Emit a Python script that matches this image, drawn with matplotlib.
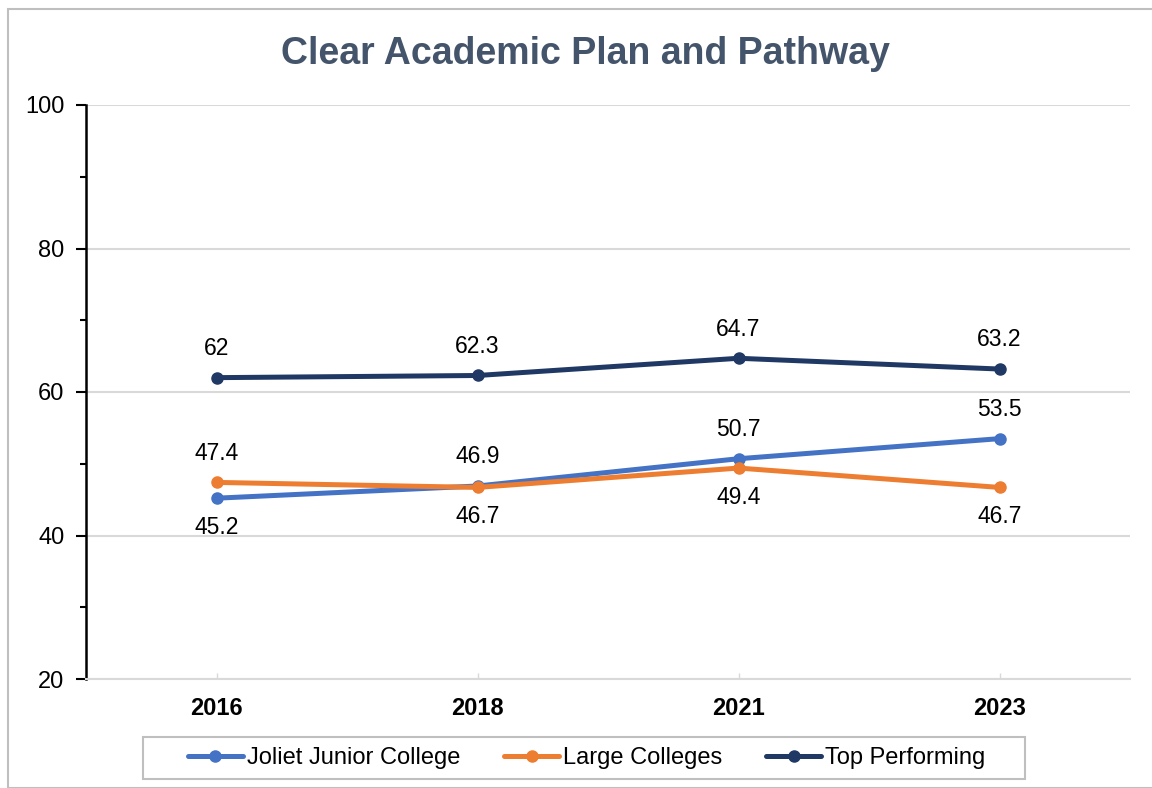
import matplotlib
matplotlib.use("Agg")
import matplotlib.pyplot as plt
from matplotlib.patches import Rectangle
from matplotlib.ticker import MultipleLocator

plt.rcParams['font.family'] = ['Liberation Sans', 'DejaVu Sans']

years = ["2016", "2018", "2021", "2023"]
joliet = [45.2, 46.9, 50.7, 53.5]
large = [47.4, 46.7, 49.4, 46.7]
top = [62, 62.3, 64.7, 63.2]

series_names = ["Joliet Junior College", "Large Colleges", "Top Performing"]
series_values = [joliet, large, top]
series_colors = ["#4472C4", "#ED7D31", "#203864"]
# label placement per point: +1 above the marker, -1 below
label_sides = [
    [-1, 1, 1, 1],
    [1, -1, -1, -1],
    [1, 1, 1, 1],
]

fig = plt.figure(figsize=(11.52, 7.88), dpi=100)
W, H = 1152, 788

# outer chart frame
fig.patches.append(Rectangle((8 / W, 0), 1.2, 1 - 9 / H, transform=fig.transFigure,
                             fill=False, edgecolor="#BFBFBF", linewidth=1.5))

ax = fig.add_axes([86 / W, 1 - 679 / H, (1130 - 86) / W, (679 - 105) / H])
x = list(range(len(years)))

for name, vals, color, sides in zip(series_names, series_values, series_colors, label_sides):
    ax.plot(x, vals, color=color, linewidth=3.6, marker="o", markersize=8,
            solid_capstyle="round", label=name, zorder=3)
    for xi, v, s in zip(x, vals, sides):
        ax.annotate(f"{v:g}", (xi, v), xytext=(0, 21 * s), textcoords="offset points",
                    ha="center", va="center", fontsize=16.5, color="black")

ax.set_xlim(-0.5, len(years) - 0.5)
ax.set_ylim(20, 100)
ax.set_xticks(x)
ax.set_xticklabels(years, fontsize=17, fontweight="bold")
ax.yaxis.set_major_locator(MultipleLocator(20))
ax.yaxis.set_minor_locator(MultipleLocator(10))
ax.tick_params(axis="y", which="major", direction="out", length=7, width=1.5,
               color="black", labelsize=17, pad=8.5)
ax.tick_params(axis="y", which="minor", direction="out", length=4, width=1.5, color="black")
ax.tick_params(axis="x", direction="in", length=4, width=1, color="#D9D9D9", pad=13)

ax.grid(axis="y", which="major", color="#D9D9D9", linewidth=1.5)
ax.set_axisbelow(True)
for side in ["top", "right"]:
    ax.spines[side].set_visible(False)
ax.spines["left"].set_color("black")
ax.spines["left"].set_linewidth(1.8)
ax.spines["bottom"].set_color("#D9D9D9")
ax.spines["bottom"].set_linewidth(1.5)

fig.text(585 / W, 1 - 54 / H, "Clear Academic Plan and Pathway", ha="center", va="center",
         fontsize=27, fontweight="bold", color="#44546A")

# legend box drawn separately so its padding can be wider than tall
fig.patches.append(Rectangle((143 / W, 1 - 779 / H), (1025 - 143) / W, (779 - 737) / H,
                             transform=fig.transFigure, fill=False,
                             edgecolor="#BFBFBF", linewidth=1.5))
fig.legend(loc="center", bbox_to_anchor=(587 / W, 1 - 758 / H), ncol=3,
           fontsize=17, frameon=False,
           handlelength=2.3, handletextpad=0.2, columnspacing=1.85)

fig.savefig("out.png", dpi=100)
